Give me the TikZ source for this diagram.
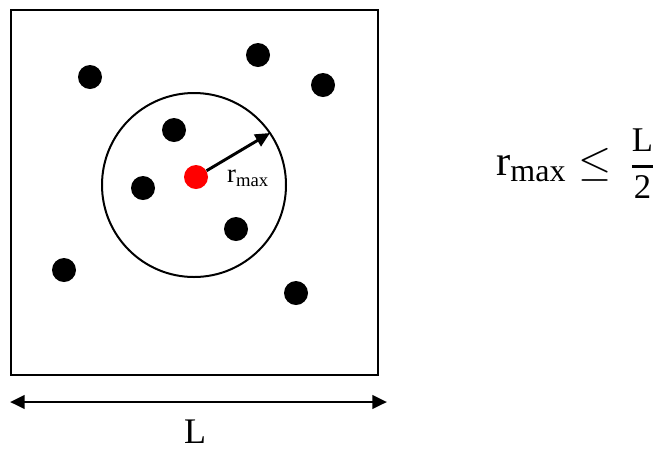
\RequirePackage{fix-cm}
\documentclass[tikz,border=0pt]{standalone}
\usepackage{fontspec}
\setmainfont{Liberation Serif}
\usepackage{amsmath}
\usetikzlibrary{arrows.meta, positioning}
\tikzstyle{particle} = [circle, fill=black, inner sep=0pt, minimum size=18pt]
\tikzstyle{centre} = [circle, fill=red, inner sep=0pt, minimum size=18pt]
\tikzstyle{arrow2} = [line width=2.2pt, -{Triangle[length=11pt,width=10pt]}]
\tikzstyle{dimline} = [line width=2.2pt, {Triangle[length=11pt,width=10pt]}-{Triangle[length=11pt,width=10pt]}]

\begin{document}
\begin{tikzpicture}[x=0.75pt, y=-0.75pt]
    \useasboundingbox (0,0) rectangle (660,451);
    % Box and cutoff circle
    \draw [line width=1.5pt] (11,10) rectangle (378,375);
    \draw [line width=1.5pt] (194,185) circle (92);
    % Nodes
    \node (p1) [particle] at (90,77) {};
    \node (p2) [particle] at (258,55) {};
    \node (p3) [particle] at (323,85) {};
    \node (p4) [particle] at (174,130) {};
    \node (p5) [particle] at (143,188) {};
    \node (p6) [particle] at (236,229) {};
    \node (p7) [particle] at (64,270) {};
    \node (p8) [particle] at (296,293) {};
    \node (ref) [centre] at (196,177) {};
    \coordinate (rim) at (270,133);
    \node (rlabel) at (248,178) {\fontsize{20}{24}\selectfont r\textsubscript{max}};
    \coordinate (left) at (10,402);
    \coordinate (right) at (387,402);
    \node (len) [anchor=base, inner sep=0pt] at (195,443) {\fontsize{27}{32}\selectfont L};
    \node (eq) [anchor=base west, inner sep=0pt] at (496,175) {\fontsize{32}{38}\selectfont $\mathrm{r}_{\mbox{\fontsize{24}{28}\selectfont max}} \leq \, \mbox{\fontsize{26}{30}\selectfont$\genfrac{}{}{1.8pt}{0}{\mathrm{L}}{\mathrm{2}}$}$};
    % Edges
    \draw [arrow2] (ref) -- (rim);
    \draw [dimline] (left) -- (right);
\end{tikzpicture}
\end{document}
